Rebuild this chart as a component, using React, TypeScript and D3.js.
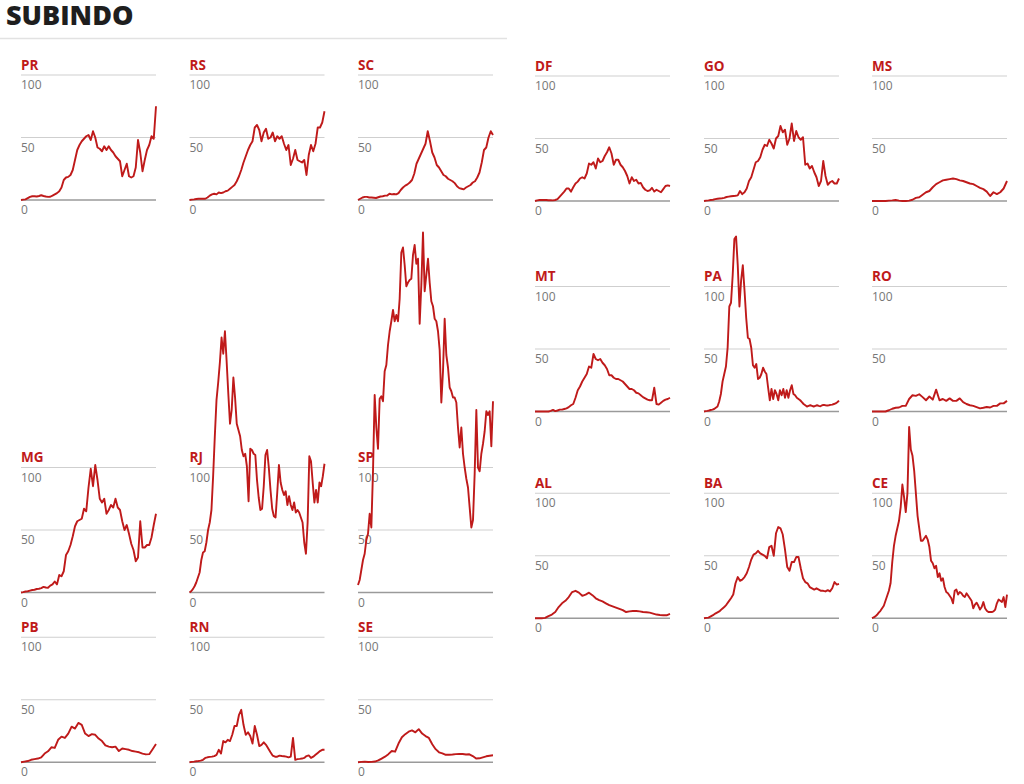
import React from "react";
import * as d3 from "d3";

// ---- data (index = day step, value = moving average) ----
const PR = [0,0.3,0.5,1.5,2.5,3,3,2.8,3.2,3.8,3.2,2.8,2.5,2.6,3.5,4.5,5.5,7,10,16,18,18.5,20,24,32,40,44,47,49,51,52,48,55,50,42,41,39,43,40,43,40,38,35,33,31,19,24,29,19,18,19,26,48,38,23,32,40,44,51,49,75];
const RS = [0,0.3,0.5,0.8,1,1,1,1,2,3.5,4.5,5,4.5,6,5.5,6,7,7.5,9,10.5,12,15,19,24,30,35,40,44,47,58,60,56,47,54,57,49,50,54,47,51,49,51,45,40,44,28,33,40,32,31,30,32,20,36,44,39,45,58,58,62,71];
const SC = [0,1,2,2.5,2.5,2,2,1.8,1.6,2.2,2.8,3,3.5,3.6,5,4.5,4.8,4.5,5.5,8,10,11.5,12.5,14,16,21,29,33,37,41,45,55,47,38,34,28,26,23,20,19,17,16,15,13.5,11,9.5,9,8.5,10,11,12,14,15,18,22,30,40,42,50,55,52];
const MG = [0,0.3,0.8,1,1.5,2,2.2,2.8,3,3.5,4.5,4,3.8,5.5,6.5,8.8,6.5,14,13,17,30,33,38,45,53,57,58,59,67,65,84,99,85,102,90,75,72,75,63,66,70,68,75,68,66,57,50,54,47,39,34,25,28,57,36,36,38,38,44,54,63];
const RJ = [0,1,2.7,5,8,12,16,26,32,33,40,50,56,66,93,125,154,168,184,204,191,209,185,159,135,146,172,156,135,130,125,114,109,111,101,73,115,114,111,110,90,76,66,67,85,110,114,100,82,67,61,60,80,102,88,82,78,81,70,77,70,66,72,64,66,64,60,56,40,31,56,109,105,88,72,82,72,88,85,93,103];
const SP = [6,10,18,26,31,42,47,63,52,97,158,132,115,155,157,153,177,182,198,209,217,226,217,222,217,235,272,276,262,245,248,250,251,270,278,263,267,215,246,288,241,254,267,248,233,229,219,217,209,194,152,177,219,190,180,164,161,156,156,152,132,116,132,111,100,91,84,68,52,58,95,146,100,97,111,119,129,145,142,145,117,153];
const PB = [0,0.5,1,2,2.5,3,4,7,8.8,12,11.5,18,20.5,19.5,23,28.5,27,31.5,30,23,21,22.5,22,19,17,13.5,12.5,12,12.5,9,11,10.5,10,9,8.5,8,7,6.3,6.5,10.5,14.6];
const RN = [0,0.3,0.5,0.8,1,1.3,2,3.5,4,4.3,4.5,5,6,10,7,17,16,18,17,22,29,29,38,42,30,22,24,21,15,29,22,13,14,16,14,11,8,5.3,4.5,4.5,5.3,5,4.8,4.5,4,4.5,19.5,2,2.5,2.7,3,3.5,5,5.5,3.5,4.5,6,7.5,9,10,10];
const SE = [0,0.3,0.5,0.2,0.3,0.6,1.5,3,4.5,6.5,9,8.5,15,20,22.5,24.5,25.5,24,26.5,23,21,19.5,14.5,10.5,8,7.2,6,6,6.2,6.5,6.6,6.6,6.2,6.4,5,3,3.2,4,4.8,5.2,5.6];
const DF = [0,0.5,0.8,0.8,0.8,0.8,0.6,0.6,0.5,0.8,1.5,3.5,5.5,7.5,10,10,7.5,11,14,15.5,18,19,18,22,30,29,31,26,34,31,32,36,39,43,38,29,33,33,29,27,24,20,14,19,16,17,14,14.5,11,9,8,8.5,10.5,7.5,9,8,7,9.5,12,12.5,12];
const GO = [0,0.3,0.5,0.8,1,1.5,1.8,2,2.2,2.5,3.2,3.5,3.8,4,4.2,4.5,8,5.5,7,10,16,19,25,31,32,35,41,45,44,49,46,42,50,52,60,55,57,45,50,62,48,56,51,49,51,29,30,26,28,23,19,12,16,32,20,13,15,16,14,14,18];
const MS = [0,0,0,0,0,0.3,0.5,0.8,0.3,0,0,0.3,1,2.5,3,5,7,8,11,13.5,15,16.5,17,17.5,18,17.5,16.5,16,15,14,13.5,12,10.5,9.5,7.5,4,7,5.5,7,10,16];
const MT = [0,0,0,0,0,0,0,0.5,1.3,0.3,0.8,1.5,1.5,2,2.5,3.5,5,6,11,17,20,24,27,30,36,35,46,42,41,42,39,37,34,29,29,27,26,26,25,24,22,20,18,18,17,15,14.5,13,11.5,10.5,9.5,9,9,19,6,5.5,7,8.5,9.5,10,11];
const PA = [0,0.3,0.5,0.8,1.2,1.5,2,3,4,8,14,24,30,36,51,84,87,109,138,140,117,84,105,117,97,75,59,58,51,37,35,38,26,27,30,35,32,30,19,9,18,10,17,14,9,17,13,18,11,17,11,17,21,14,13,11,10,9,7.5,6,5,4,4.5,5,4.5,4,4.5,5,4.5,4.2,5,5.3,5,4.8,5,5.3,5.5,6,6.5,7.4,8.7];
const RO = [0,0,0,0,0,1,2.2,3,3.2,4.5,4.5,10,13,12.5,13.8,11.5,9,12,9.5,17.5,9,10,8.5,10.5,8.5,8.5,10.5,7.5,6,5,4.5,3.5,2.5,3,3.6,3.2,4.5,4.5,6.5,6.5,8.5];
const AL = [0,0,0,0.3,1.8,3,5,9,12,14,17,21,22,20.5,18,19,20.5,18.5,16,14.5,13.5,12,10.5,9.5,8.5,7.5,6.5,5,5.5,5.8,5.8,5.5,5,4.8,4.5,3.8,3,2.6,2.4,2.4,3.5];
const BA = [0,0.3,0.5,1.5,2.5,3.8,4.8,5.8,7.5,9,11,13.5,16,19,28,33,30,31,33,36,41,47,51,52,54,52,51,50,48,57,58,50,68,73,72,67,55,41,38,45,45,49,49,40,32,29,28,25,24,23,24,23,22,22,21.5,22.5,21.5,24,29,27,27.5];
const CE = [0,0.8,1.5,2.8,4.5,6,8,10,14,18,22,28,45,58,66,72,78,89,107,97,85,100,153,135,130,118,100,82,72,62,62,64,66,63,57,46,44,40,42,33,36,30,32,25,21,20,18,16,12,22,23,19,21,20,18,17,20,18,16,14,8,11,12.5,10,7,9,13,8,6,5,5,5,5.5,7,12,15,14,13,17,9,19];

const STATES = ["PR","RS","SC","MG","RJ","SP","PB","RN","SE","DF","GO","MS","MT","PA","RO","AL","BA","CE"];
const SERIES: Record<string, number[]> = { PR, RS, SC, MG, RJ, SP, PB, RN, SE, DF, GO, MS, MT, PA, RO, AL, BA, CE };
const TICKS = [0, 50, 100];
const TITLE = "SUBINDO";

// ---- layout ----
const LEFT_X = [21, 189.5, 358];
const LEFT_Y = [75, 467.5, 637.3];
const RIGHT_X = [535, 704, 872];
const RIGHT_Y = [76, 286.5, 493.3];
const PANEL_W = 135;
const UNIT_H = 125; // px for 0..100

const RED = "#bf1a1a";

function Panel({ name, x0, y100 }: { name: string; x0: number; y100: number }) {
  const data = SERIES[name];
  const x = d3.scaleLinear().domain([0, data.length - 1]).range([x0, x0 + PANEL_W]);
  const y = d3.scaleLinear().domain([0, 100]).range([y100 + UNIT_H, y100]);
  const line = d3.line<number>().x((_, i) => x(i)).y((d) => y(d));
  return (
    <g>
      {TICKS.map((t) => (
        <g key={t}>
          <line x1={x0} x2={x0 + PANEL_W} y1={y(t)} y2={y(t)} stroke={t === 0 ? "#9a9a9a" : "#cfcfcf"} strokeWidth={t === 0 ? 1.4 : 1.1} />
          <text x={x0} y={y(t) + 14} fontSize={12} fill="#777" fontFamily="'Open Sans', sans-serif">{t}</text>
        </g>
      ))}
      <text x={x0} y={y100 - 5.5} fontSize={13.5} fontWeight={700} fill={RED} fontFamily="'Open Sans', sans-serif">{name}</text>
      <path d={line(data) || ""} fill="none" stroke={RED} strokeWidth={1.9} strokeLinejoin="round" />
    </g>
  );
}

export default function App() {
  const panels: { name: string; x0: number; y100: number }[] = [];
  STATES.forEach((s, i) => {
    if (i < 9) {
      panels.push({ name: s, x0: LEFT_X[i % 3], y100: LEFT_Y[Math.floor(i / 3)] });
    } else {
      const j = i - 9;
      panels.push({ name: s, x0: RIGHT_X[j % 3], y100: RIGHT_Y[Math.floor(j / 3)] });
    }
  });
  return (
    <svg width={1024} height={784} style={{ position: "absolute", left: 0, top: 0, background: "#fff" }}>
      <rect x={0} y={0} width={1024} height={784} fill="#fff" />
      <text x={6} y={24.5} fontSize={27} fontWeight={800} fill="#1e1e1e" fontFamily="'Open Sans', sans-serif">{TITLE}</text>
      <line x1={0} x2={507} y1={38.5} y2={38.5} stroke="#e2e2e2" strokeWidth={1.5} />
      {panels.map((p) => (
        <Panel key={p.name} {...p} />
      ))}
    </svg>
  );
}
